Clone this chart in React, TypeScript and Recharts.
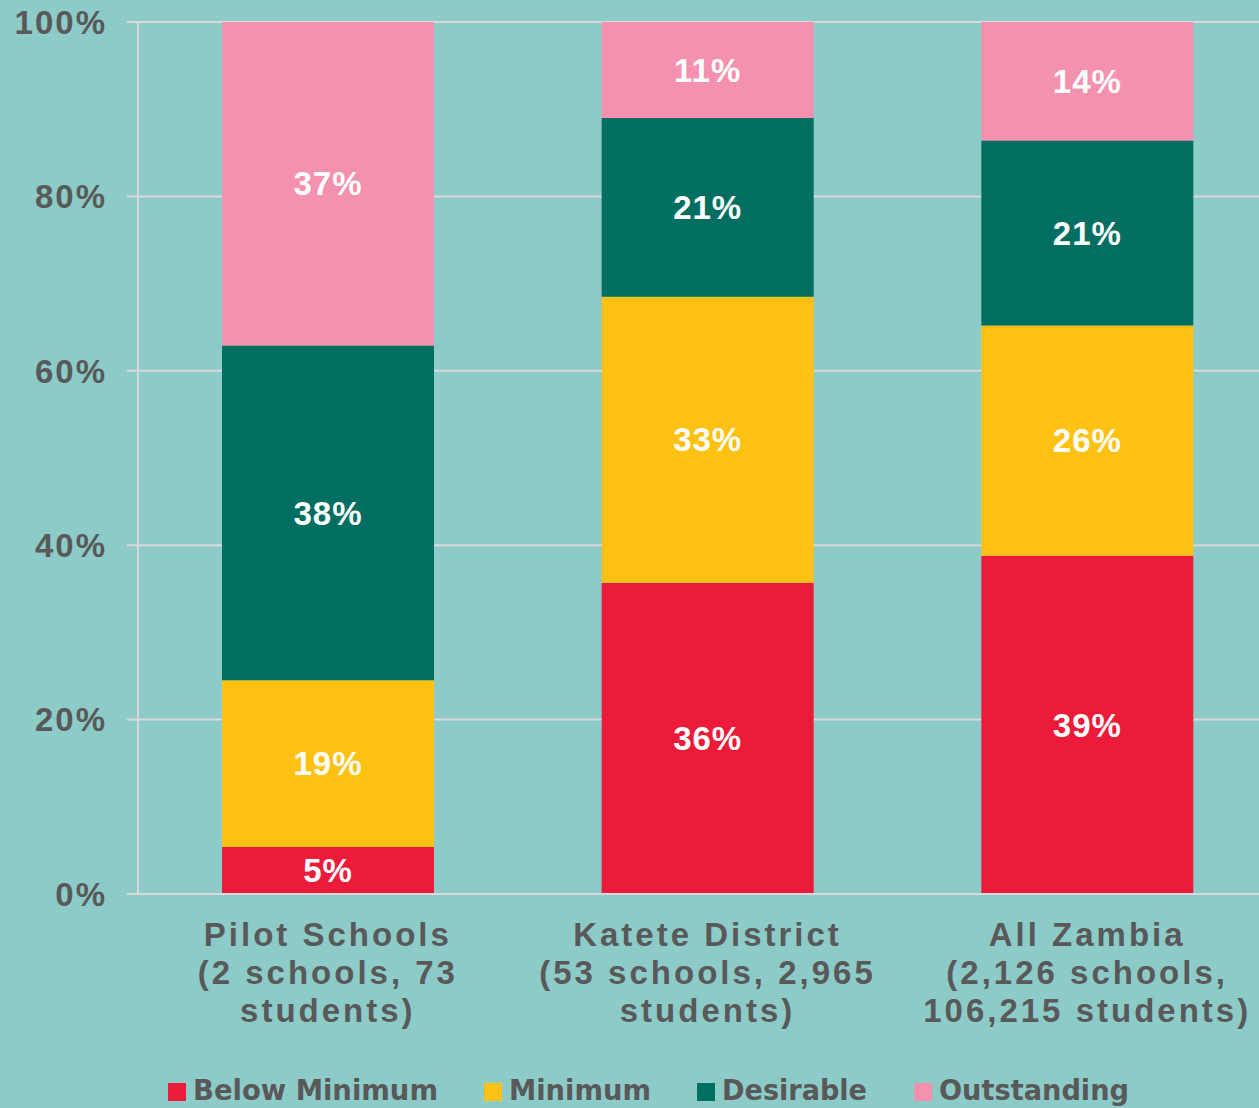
import React from 'react';
import { BarChart, Bar, XAxis, YAxis, CartesianGrid, Legend, LabelList } from 'recharts';

const categories = ['Pilot Schools', 'Katete District', 'All Zambia'];
const categoryLines = [
  ['Pilot Schools', '(2 schools, 73', 'students)'],
  ['Katete District', '(53 schools, 2,965', 'students)'],
  ['All Zambia', '(2,126 schools,', '106,215 students)'],
];
const belowMinimum = [5.4, 35.7, 38.8];
const minimum = [19.1, 32.8, 26.4];
const desirable = [38.4, 20.5, 21.2];
const outstanding = [37.1, 11.0, 13.6];
const yTicks = [0, 20, 40, 60, 80, 100];

const seriesNames = ['Below Minimum', 'Minimum', 'Desirable', 'Outstanding'];
const seriesKeys = ['below', 'minimum', 'desirable', 'outstanding'];
const colors = ['#ED1B3A', '#FEC114', '#006F62', '#F391AE'];

const data = categories.map((c, i) => ({
  name: c,
  idx: i,
  below: belowMinimum[i],
  minimum: minimum[i],
  desirable: desirable[i],
  outstanding: outstanding[i],
}));

const BG = '#8DCBC9';
const GRID = '#D9D9D9';
const TEXT = '#595959';
const FONT = '"Liberation Sans", Arial, sans-serif';

const XTick = (props: any) => {
  const { x, y, payload } = props;
  const lines = categoryLines[categories.indexOf(payload.value)] || [payload.value];
  const offs = [52, 90, 128];
  return (
    <g>
      {lines.map((l, i) => (
        <text
          key={i}
          x={x}
          y={y + offs[i]}
          textAnchor="middle"
          fill={TEXT}
          fontFamily={FONT}
          fontWeight={700}
          fontSize={33}
          letterSpacing={3}
        >
          {l}
        </text>
      ))}
    </g>
  );
};

const legendX = [168, 484, 697, 914];
const legendTextW = [245, 142, 145, 190];

const LegendContent = () => (
  <svg width={1259} height={41} style={{ display: 'block', overflow: 'visible' }}>
    {seriesNames.map((n, i) => (
      <g key={n}>
        <rect x={legendX[i]} y={17} width={18} height={18} fill={colors[i]} />
        <text
          x={legendX[i] + 25}
          y={34}
          fill={TEXT}
          fontFamily='"Liberation Sans Narrow", "DejaVu Sans Condensed", sans-serif'
          fontWeight={700}
          fontSize={29}
          textLength={legendTextW[i]}
          lengthAdjust="spacingAndGlyphs"
        >
          {n}
        </text>
      </g>
    ))}
  </svg>
);

export default function App() {
  return (
    <div
      style={{
        position: 'fixed',
        left: 0,
        top: 0,
        width: 1259,
        height: 1108,
        background: BG,
        overflow: 'hidden',
      }}
    >
      <BarChart
        width={1277}
        height={1108}
        data={data}
        margin={{ top: 22, right: 0, bottom: 0, left: 0 }}
        barSize={212}
      >
        <CartesianGrid horizontal vertical={false} stroke={GRID} strokeWidth={2} />
        <XAxis
          dataKey="name"
          height={214}
          tickLine={false}
          tickSize={0}
          tickMargin={0}
          axisLine={{ stroke: GRID, strokeWidth: 2 }}
          tick={<XTick />}
          interval={0}
        />
        <YAxis
          width={138}
          domain={[0, 100]}
          ticks={yTicks}
          tickFormatter={(v: number) => `${v}%`}
          tickSize={11}
          tickMargin={20}
          tickLine={{ stroke: GRID, strokeWidth: 2 }}
          axisLine={{ stroke: GRID, strokeWidth: 2 }}
          tick={{ fill: TEXT, fontFamily: FONT, fontWeight: 700, fontSize: 33, letterSpacing: 2 }}
        />
        <Legend
          layout="horizontal"
          verticalAlign="middle"
          align="center"
          content={<LegendContent />}
          wrapperStyle={{ top: 1066, left: 0, width: 1259 }}
        />
        {seriesKeys.map((k, i) => (
          <Bar key={k} dataKey={k} name={seriesNames[i]} stackId="a" fill={colors[i]} isAnimationActive={false}>
            <LabelList
              dataKey={k}
              position="center"
              formatter={(v: number) => `${Math.round(v)}%`}
              fill="#FFFFFF"
              fontFamily={FONT}
              fontWeight={700}
              fontSize={33}
              letterSpacing={1}
            />
          </Bar>
        ))}
      </BarChart>
    </div>
  );
}
